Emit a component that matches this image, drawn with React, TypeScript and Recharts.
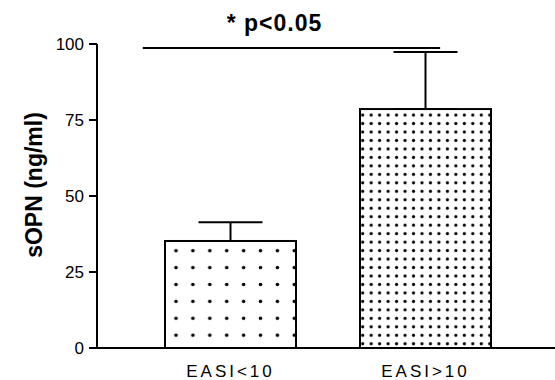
import React from 'react';
import { BarChart, Bar, XAxis, YAxis, ErrorBar, ReferenceLine } from 'recharts';

const categories = ['EASI<10', 'EASI>10'];
const means = [35.2, 78.6];
const sems = [6.2, 18.8];
const yTicks = [0, 25, 50, 75, 100];
const yLabel = 'sOPN (ng/ml)';
const sigText = '* p<0.05';
// significance bar ends, in category-index units (0 = first bar centre, 1 = second bar centre)
const sigX = [-0.45, 1.075];
const sigY = 98.7;

const data = categories.map((c, i) => ({ name: c, value: means[i], err: [0, sems[i]] }));

const FONT = '"Liberation Sans", Arial, sans-serif';

const patterns = [
  { step: 16.9, ox: 11, oy: 9.7, r: 1.8 },
  { step: 8.47, ox: 2.7, oy: 6, r: 1.6 },
];

const BarShape = (props: any) => {
  const { x, y, width, height, payload } = props;
  const idx = Math.max(0, categories.indexOf(payload?.name));
  const p = patterns[idx];
  const id = `dots-${idx}`;
  return (
    <g>
      <defs>
        <pattern
          id={id}
          patternUnits="userSpaceOnUse"
          x={x + p.ox - p.step / 2}
          y={y + p.oy - p.step / 2}
          width={p.step}
          height={p.step}
        >
          <circle cx={p.step / 2} cy={p.step / 2} r={p.r} fill="#000" />
        </pattern>
      </defs>
      <rect x={x} y={y} width={width} height={height} fill="#fff" />
      <rect x={x} y={y} width={width} height={height} fill={`url(#${id})`} stroke="#000" strokeWidth={2} />
    </g>
  );
};

const SigLabel = (props: any) => {
  const vb = props.viewBox || {};
  const cx = (vb.x ?? 0) + (vb.width ?? 0) / 2 - 17;
  return (
    <text
      x={cx}
      y={(vb.y ?? 0) - 16.5}
      textAnchor="middle"
      fontFamily={FONT}
      fontWeight="bold"
      fontSize={23}
      letterSpacing={1}
      fill="#000"
    >
      {sigText}
    </text>
  );
};

const YLabel = (props: any) => {
  const vb = props.viewBox || {};
  const x = 42;
  const y = (vb.y ?? 0) + (vb.height ?? 0) / 2 - 11;
  return (
    <text
      x={x}
      y={y}
      transform={`rotate(-90, ${x}, ${y})`}
      textAnchor="middle"
      fontFamily={FONT}
      fontWeight="bold"
      fontSize={23}
      fill="#000"
    >
      {yLabel}
    </text>
  );
};

export default function App() {
  return (
    <div style={{ position: 'absolute', left: 0, top: 0, width: 555, height: 380, background: '#fff', fontFamily: FONT }}>
      <BarChart width={555} height={380} data={data} margin={{ top: 44, right: 0, bottom: 0, left: 0 }}>
        <XAxis
          dataKey="name"
          height={32}
          padding={{ left: 36, right: 32 }}
          axisLine={{ stroke: '#000', strokeWidth: 2 }}
          tickLine={false}
          tickSize={8}
          tickMargin={9}
          tick={{ fontSize: 17, fill: '#000', fontFamily: FONT, letterSpacing: 3 }}
        />
        <XAxis
          xAxisId="sig"
          type="number"
          scale="linear"
          hide
          padding={{ left: 133.5, right: 129.5 }}
        />
        <YAxis
          width={97}
          domain={[0, 100]}
          ticks={yTicks}
          interval={0}
          axisLine={{ stroke: '#000', strokeWidth: 2 }}
          tickLine={{ stroke: '#000', strokeWidth: 2 }}
          tickSize={8}
          tickMargin={5}
          tick={{ fontSize: 17, fill: '#000', fontFamily: FONT }}
          label={{ content: (p: any) => <YLabel {...p} /> }}
        />
        <Bar dataKey="value" barSize={131} isAnimationActive={false} shape={(p: any) => <BarShape {...p} />}>
          <ErrorBar dataKey="err" direction="y" width={32} stroke="#000" strokeWidth={2} isAnimationActive={false} />
        </Bar>
        <ReferenceLine
          xAxisId="sig"
          segment={[{ x: sigX[0], y: sigY }, { x: sigX[1], y: sigY }]}
          stroke="#000"
          strokeWidth={2}
          ifOverflow="visible"
          label={{ content: (p: any) => <SigLabel {...p} /> }}
        />
      </BarChart>
    </div>
  );
}
